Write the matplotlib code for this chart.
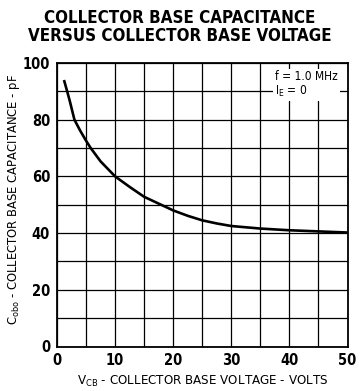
import matplotlib
matplotlib.use("Agg")
import matplotlib.pyplot as plt
import numpy as np

# Cobo vs VCB curve (read points)
vcb = [1.2, 1.75, 2.2, 3.0, 4.0, 5.0, 5.8, 7.5, 10.0, 12.5, 15.0, 17.5,
       20.0, 22.5, 25.0, 27.5, 30.0, 35.0, 40.0, 45.0, 50.0]
cobo = [94.0, 90.0, 86.6, 80.0, 76.1, 72.6, 70.0, 65.3, 60.0, 56.3, 52.8, 50.4,
        48.0, 46.1, 44.5, 43.4, 42.5, 41.6, 41.0, 40.6, 40.2]

x_ticks = [0, 10, 20, 30, 40, 50]
y_ticks = [0, 20, 40, 60, 80, 100]

plt.rcParams['font.family'] = ['DejaVu Sans', 'Liberation Sans']
plt.rcParams['font.stretch'] = 'condensed'
plt.rcParams['mathtext.fontset'] = 'custom'
plt.rcParams['mathtext.rm'] = 'DejaVu Sans:stretch=condensed'

fig = plt.figure(figsize=(3.6, 3.91), dpi=100)
ax = fig.add_axes([57 / 360, 1 - 346.5 / 391, 290.5 / 360, 283.5 / 391])

ax.plot(vcb, cobo, color='black', linewidth=1.9, solid_capstyle='butt')

ax.set_xlim(0, 50)
ax.set_ylim(0, 100)
ax.set_xticks(x_ticks)
ax.set_yticks(y_ticks)
ax.set_xticks(np.arange(0, 51, 5), minor=True)
ax.set_yticks(np.arange(0, 101, 10), minor=True)
ax.grid(True, which='both', color='black', linewidth=0.9)
ax.tick_params(which='both', length=0, labelsize=10.5, pad=5)
for s in ax.spines.values():
    s.set_linewidth(1.3)
for lbl in ax.get_xticklabels() + ax.get_yticklabels():
    lbl.set_fontweight('bold')

ax.text(37.5, 97.5, 'f = 1.0 MHz\nI$_\\mathregular{E}$ = 0', ha='left', va='top',
        fontsize=8.6, linespacing=1.1,
        bbox=dict(facecolor='white', edgecolor='none', pad=1.5))

ax.set_xlabel('V$_\\mathregular{CB}$ - COLLECTOR BASE VOLTAGE - VOLTS', fontsize=9.5,
              labelpad=4)
ax.set_ylabel('C$_\\mathregular{obo}$ - COLLECTOR BASE CAPACITANCE - pF', fontsize=9.3)
ax.yaxis.set_label_coords(-0.12, 0.517)

fig.text(0.5, 0.978, 'COLLECTOR BASE CAPACITANCE\nVERSUS COLLECTOR BASE VOLTAGE',
         ha='center', va='top', fontsize=12.2, fontweight='bold', linespacing=1.0)

fig.savefig('out.png', dpi=100)
